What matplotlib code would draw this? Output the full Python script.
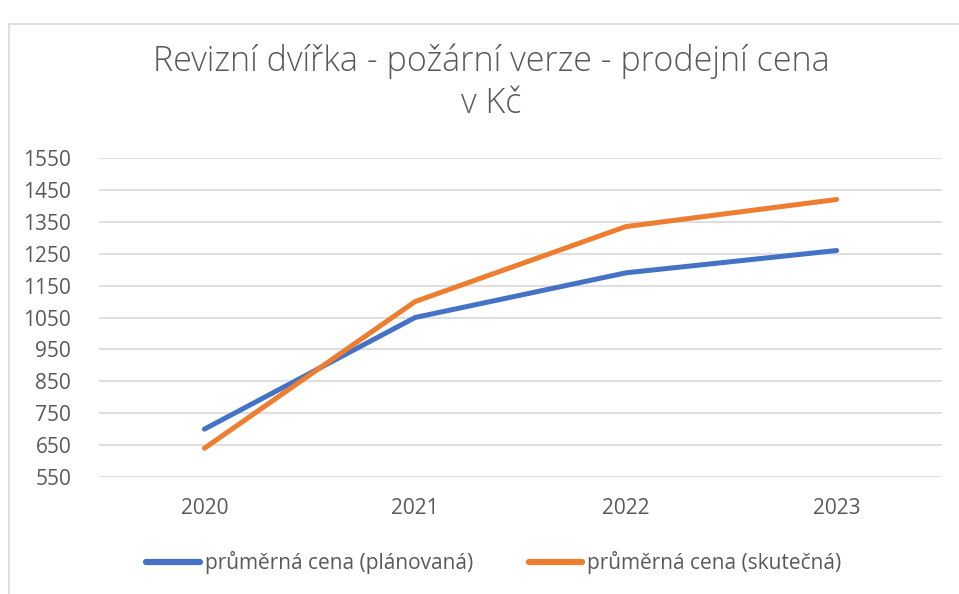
import matplotlib
matplotlib.use('Agg')
import matplotlib.pyplot as plt
from matplotlib.patches import Rectangle

# data
years = ['2020', '2021', '2022', '2023']
planned = [700, 1050, 1190, 1260]
actual = [640, 1100, 1335, 1420]
yticks = [550, 650, 750, 850, 950, 1050, 1150, 1250, 1350, 1450, 1550]

plt.rcParams['font.family'] = ['Open Sans', 'DejaVu Sans']
grey = '#595959'

fig = plt.figure(figsize=(9.59, 5.94), dpi=100)
fig.patch.set_facecolor('white')

# chart border
fig.patches.append(Rectangle((9/959, -0.05), 1.1, 1 - 24/594 + 0.05, transform=fig.transFigure,
                             fill=False, edgecolor='#D9D9D9', lw=1.2))

ax = fig.add_axes([99/959, 117/594, 843/959, 319/594])
x = list(range(len(years)))
ax.plot(x, planned, color='#4472C4', lw=3.6, solid_capstyle='round', solid_joinstyle='round',
        label='průměrná cena (plánovaná)')
ax.plot(x, actual, color='#ED7D31', lw=3.6, solid_capstyle='round', solid_joinstyle='round',
        label='průměrná cena (skutečná)')

ax.set_xlim(-0.5, len(years) - 0.5)
ax.set_ylim(550, 1550)
ax.set_yticks(yticks)
ax.set_xticks(x)
ax.set_xticklabels(years)
ax.grid(axis='y', color='#D9D9D9', lw=1.2)
ax.set_axisbelow(True)
for s in ax.spines.values():
    s.set_visible(False)
ax.tick_params(length=0, labelsize=15, labelcolor=grey)
ax.tick_params(axis='y', pad=20)
ax.tick_params(axis='x', pad=15)

fig.text(0.512, 1 - 61/594, 'Revizní dvířka - požární verze - prodejní cena', ha='center', va='center',
         fontsize=24.5, color=grey, fontweight='light')
fig.text(0.512, 1 - 104/594, 'v Kč', ha='center', va='center', fontsize=24.5, color=grey, fontweight='light')

leg = fig.legend(loc='center', bbox_to_anchor=(0.515, 1 - 563/594), ncol=2, frameon=False,
                 fontsize=15, handlelength=2.55, handletextpad=0.24, columnspacing=2.7)
for t in leg.get_texts():
    t.set_color(grey)
for l in leg.get_lines():
    l.set_linewidth(4.5)

fig.savefig('out.png', dpi=100)
